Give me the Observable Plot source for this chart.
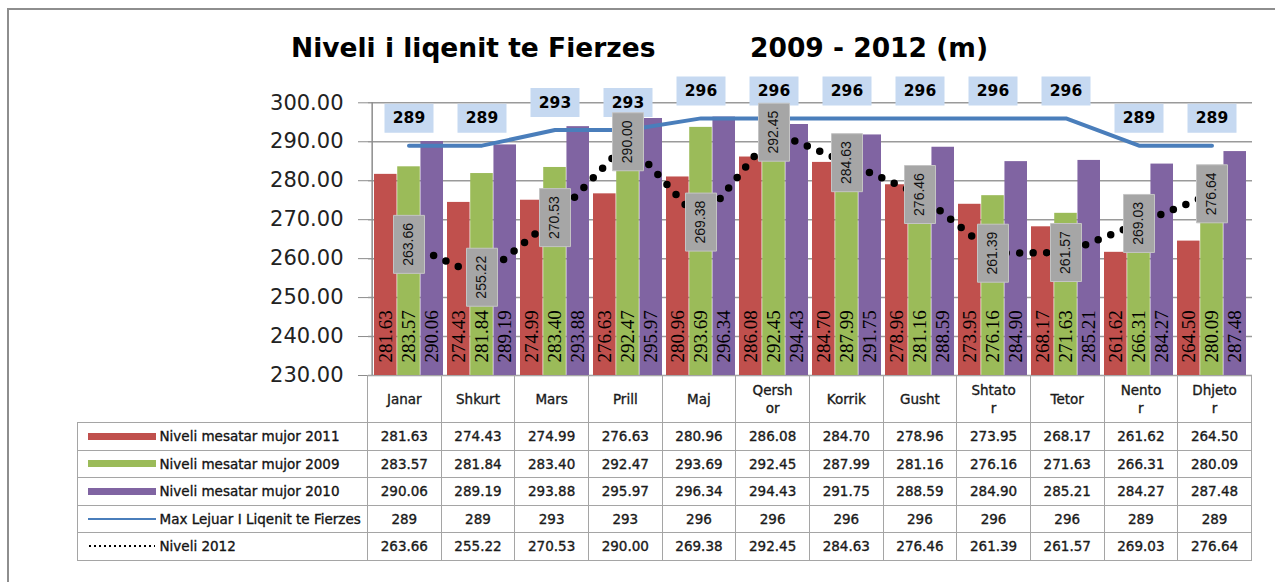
<!DOCTYPE html>
<html>
<head>
<meta charset="utf-8">
<script src="https://cdn.jsdelivr.net/npm/d3@7"></script>
<script src="https://cdn.jsdelivr.net/npm/@observablehq/plot@0.6"></script>
<style>
  html, body { margin: 0; padding: 0; background: #fff; }
  #wrap { position: relative; width: 1275px; height: 582px; overflow: hidden; background: #fff; }
  #frame { position: absolute; left: 7px; top: 8px; width: 1400px; height: 700px;
           border-left: 2px solid #8e8e8e; border-top: 2px solid #8e8e8e; }
  .title { position: absolute; top: 35px; font: bold 26.5px "DejaVu Sans", sans-serif;
           line-height: 1; white-space: nowrap; color: #000; }
  #chart { position: absolute; left: 0; top: 0; }
  .tbl { position: absolute; left: 77px; top: 375px; display: grid;
         font: 13.5px "DejaVu Sans", sans-serif; color: #1a1a1a; -webkit-text-stroke: 0.35px #1a1a1a; }
  .tbl > div { box-sizing: border-box; display: flex; align-items: center; justify-content: center;
               text-align: center; border-right: 1.5px solid #a5a5a5; border-bottom: 1.5px solid #a5a5a5; }
  .tbl > div.hd { border-top: 1.5px solid #a5a5a5; word-break: break-all; padding: 0 13.6px; line-height: 1.35; }
  .tbl > div.lg { border-left: 1.5px solid #a5a5a5; justify-content: flex-start; padding-left: 9.5px; color: #111; white-space: nowrap; }
  .sw { width: 68px; margin-right: 4px; flex: none; }
</style>
</head>
<body>
<div id="wrap">
  <div id="frame"></div>
  <div class="title" id="t1" style="left:291px"></div>
  <div class="title" id="t2" style="left:750px"></div>
  <div id="chart"></div>
</div>
<script>
// ---------------- data ----------------
const titleLeft = "Niveli i liqenit te Fierzes";
const titleRight = "2009 - 2012 (m)";
const months = ["Janar", "Shkurt", "Mars", "Prill", "Maj", "Qershor", "Korrik", "Gusht", "Shtator", "Tetor", "Nentor", "Dhjetor"];
const s2011 = [281.63, 274.43, 274.99, 276.63, 280.96, 286.08, 284.70, 278.96, 273.95, 268.17, 261.62, 264.50];
const s2009 = [283.57, 281.84, 283.40, 292.47, 293.69, 292.45, 287.99, 281.16, 276.16, 271.63, 266.31, 280.09];
const s2010 = [290.06, 289.19, 293.88, 295.97, 296.34, 294.43, 291.75, 288.59, 284.90, 285.21, 284.27, 287.48];
const maxLevel = [289, 289, 293, 293, 296, 296, 296, 296, 296, 296, 289, 289];
const level2012 = [263.66, 255.22, 270.53, 290.00, 269.38, 292.45, 284.63, 276.46, 261.39, 261.57, 269.03, 276.64];
const yTicks = [230, 240, 250, 260, 270, 280, 290, 300];
const seriesNames = ["Niveli mesatar mujor 2011", "Niveli mesatar mujor 2009", "Niveli mesatar mujor 2010",
                     "Max Lejuar I Liqenit te Fierzes", "Niveli 2012"];

// ---------------- layout / style ----------------
const W = 1275, H = 400;
const mL = 368, mR = 23, mT = 102.3, bottomY = 375, mB = H - bottomY;
const band = (W - mL - mR) / months.length;
const gap = 2, bw = (band - 2 * gap) / 3;
const colors = ["#C0504D", "#9BBB59", "#8064A2"];
const blue = "#4A7EBB";

document.getElementById("t1").textContent = titleLeft;
document.getElementById("t2").textContent = titleRight;

const rows = months.map((m, i) => ({
  month: m, v2011: s2011[i], v2009: s2009[i], v2010: s2010[i], max: maxLevel[i], n2012: level2012[i]
}));
const barSeries = [
  {key: "v2011", color: colors[0], il: gap, ir: gap + 2 * bw},
  {key: "v2009", color: colors[1], il: gap + bw, ir: gap + bw},
  {key: "v2010", color: colors[2], il: gap + 2 * bw, ir: gap}
];
const rectSym = (w, h) => ({draw(ctx) { ctx.rect(-w / 2, -h / 2, w, h); }});
const yMin = yTicks[0], yMax = yTicks[yTicks.length - 1];

const marks = [
  Plot.ruleY(yTicks, {stroke: "#9a9a9a", strokeWidth: 1.5}),
];
for (const s of barSeries) {
  marks.push(Plot.barY(rows, {x: "month", y1: yMin, y2: s.key, fill: s.color, insetLeft: s.il, insetRight: s.ir}));
}
marks.push(Plot.ruleX([months[0]], {x: d => d, dx: -band / 2, y1: yMin, y2: yMax, stroke: "#8c8c8c", strokeWidth: 1.5}));
marks.push(Plot.axisY({ticks: yTicks, tickSize: 10, tickPadding: 15, tickFormat: d => d.toFixed(2),
  fontSize: 21, fontFamily: "DejaVu Sans", stroke: "#8c8c8c", fill: "#222", label: null}));
marks.push(Plot.line(rows, {x: "month", y: "max", stroke: blue, strokeWidth: 4}));
marks.push(Plot.line(rows, {x: "month", y: "n2012", stroke: "#000", strokeWidth: 7.5,
  strokeDasharray: "0 13.5", strokeLinecap: "round"}));
for (const s of barSeries) {
  const off = s.il + bw / 2 - band / 2;
  marks.push(Plot.text(rows, {x: "month", y: yMin, text: d => d[s.key].toFixed(2), rotate: -90,
    textAnchor: "start", dx: off, dy: -13, fontSize: 19, fontFamily: "Liberation Serif", fill: "#000"}));
}
marks.push(Plot.dot(rows, {x: "month", y: "max", dy: -27.5, symbol: rectSym(49, 29), fill: "#C6D9F1", stroke: "none"}));
marks.push(Plot.text(rows, {x: "month", y: "max", dy: -27.5, text: d => String(d.max),
  fontWeight: "bold", fontSize: 15.5, fontFamily: "DejaVu Sans", fill: "#000"}));
marks.push(Plot.dot(rows, {x: "month", y: "n2012", symbol: rectSym(31, 58), fill: "#A6A6A6", stroke: "#c4c4c4", strokeWidth: 1}));
marks.push(Plot.text(rows, {x: "month", y: "n2012", text: d => d.n2012.toFixed(2), rotate: -90,
  fontSize: 14, fontFamily: "Liberation Sans", fill: "#111"}));

const chart = Plot.plot({
  width: W, height: H,
  marginLeft: mL, marginRight: mR, marginTop: mT, marginBottom: mB,
  style: {background: "transparent", overflow: "visible"},
  x: {type: "band", domain: months, padding: 0, axis: null},
  y: {domain: [yMin, yMax], label: null},
  marks
});
document.getElementById("chart").appendChild(chart);

// ---------------- data table ----------------
const tbl = document.createElement("div");
tbl.className = "tbl";
tbl.style.gridTemplateColumns = `${mL - 77}px repeat(${months.length}, ${band}px)`;
tbl.style.gridTemplateRows = `48px repeat(${seriesNames.length}, 27.5px)`;
const corner = document.createElement("div");
tbl.appendChild(corner);
for (const m of months) {
  const c = document.createElement("div");
  c.className = "hd";
  c.textContent = m;
  tbl.appendChild(c);
}
const tableSeries = [s2011, s2009, s2010, maxLevel, level2012];
const fmt = [v => v.toFixed(2), v => v.toFixed(2), v => v.toFixed(2), v => String(v), v => v.toFixed(2)];
const swatch = (i) => {
  if (i < 3) return `<div class="sw" style="height:7px;background:${colors[i]}"></div>`;
  if (i === 3) return `<div class="sw" style="height:2.5px;background:${blue}"></div>`;
  return `<svg class="sw" width="68" height="4"><line x1="1" y1="2" x2="67" y2="2" stroke="#000" stroke-width="2" stroke-dasharray="2 3"/></svg>`;
};
tableSeries.forEach((vals, i) => {
  const lg = document.createElement("div");
  lg.className = "lg";
  lg.innerHTML = swatch(i) + `<span>${seriesNames[i]}</span>`;
  tbl.appendChild(lg);
  vals.forEach(v => {
    const c = document.createElement("div");
    c.textContent = fmt[i](v);
    tbl.appendChild(c);
  });
});
document.getElementById("wrap").appendChild(tbl);
</script>
</body>
</html>
